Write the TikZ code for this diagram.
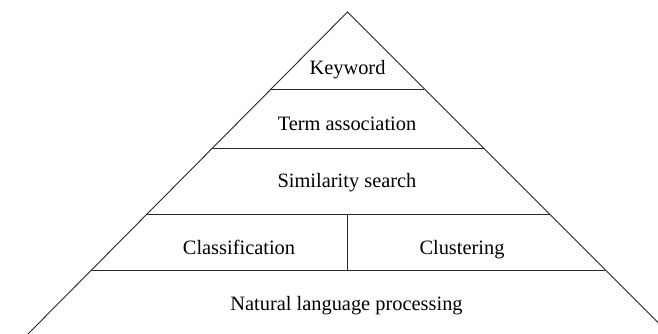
\documentclass[tikz,border=0pt]{standalone}
\usepackage{fontspec}
\setmainfont{Liberation Serif}
\usetikzlibrary{calc}
\begin{document}
\begin{tikzpicture}[x=1pt,y=-1pt,
  edge/.style={line width=0.9pt, draw=black!85},
  lbl/.style={font=\fontsize{20.4}{24}\selectfont, inner sep=0pt, anchor=base}]
\useasboundingbox (0,0) rectangle (658,334);
\clip (0,0) rectangle (658,334);
\coordinate (apex) at (347.5,12);
\coordinate (bl) at (28,334);
\coordinate (br) at (669.5,334);
\draw[edge] (bl) -- (apex) -- (br);
\foreach \t in {0.2391,0.4224,0.6273,0.8012}{
  \draw[edge] ($(apex)!\t!(bl)$) -- ($(apex)!\t!(br)$);
}
\coordinate (divtop) at (347,214);
\coordinate (divbot) at (347,270);
\draw[edge] (divtop) -- (divbot);
\node[lbl] (kw) at (347.5,75) {Keyword};
\node[lbl] (ta) at (347,130) {Term association};
\node[lbl] (ss) at (347,187) {Similarity search};
\node[lbl] (cl) at (239,254) {Classification};
\node[lbl] (cu) at (462,254) {Clustering};
\node[lbl] (nlp) at (346.5,310) {Natural language processing};
\end{tikzpicture}
\end{document}
